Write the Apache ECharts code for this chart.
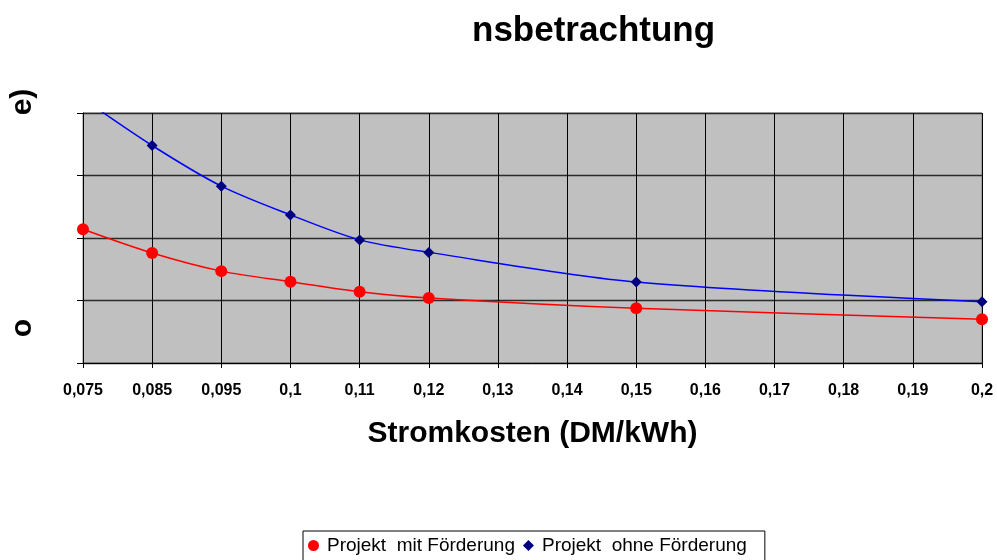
<!DOCTYPE html>
<html>
<head>
<meta charset="utf-8">
<script src="https://cdn.jsdelivr.net/npm/echarts@6/dist/echarts.min.js"></script>
<style>
html,body{margin:0;padding:0;background:#fff;}
#chart{width:997px;height:560px;}
</style>
</head>
<body>
<div id="chart"></div>
<script>
// Data
const categories = ['0,075','0,085','0,095','0,1','0,11','0,12','0,13','0,14','0,15','0,16','0,17','0,18','0,19','0,2'];
const mitFoerderung  = [21.4, 17.6, 14.7, 13.0, 11.4, 10.4, null, null, 8.75, null, null, null, null, 7.0];
const ohneFoerderung = [42.3, 34.8, 28.3, 23.7, 19.7, 17.7, null, null, 12.96, null, null, null, null, 9.8];
const seriesNames = ['Projekt  mit Förderung', 'Projekt  ohne Förderung'];
const titleText = 'nsbetrachtung';
const xAxisTitle = 'Stromkosten (DM/kWh)';
const yTitleParts = ['e)', 'o'];

const chart = echarts.init(document.getElementById('chart'), null, {renderer: 'canvas'});
const FONT = 'Liberation Sans, Arial, sans-serif';

chart.setOption({
  backgroundColor: '#ffffff',
  animation: false,
  title: {
    text: titleText,
    left: 467,
    top: 9,
    textStyle: {fontFamily: FONT, fontSize: 35, fontWeight: 'bold', color: '#000'}
  },
  graphic: [
    {type: 'text', x: 23, y: 102, rotation: Math.PI / 2,
     style: {text: yTitleParts[0], font: 'bold 30px ' + FONT, fill: '#000', textAlign: 'center', textVerticalAlign: 'middle'}},
    {type: 'text', x: 23, y: 328, rotation: Math.PI / 2,
     style: {text: yTitleParts[1], font: 'bold 30px ' + FONT, fill: '#000', textAlign: 'center', textVerticalAlign: 'middle'}}
  ],
  legend: {
    left: 303,
    top: 531,
    orient: 'horizontal',
    borderColor: '#000',
    borderWidth: 1,
    padding: [5, 18, 6, 5],
    itemGap: 8,
    itemWidth: 11,
    itemHeight: 11,
    textStyle: {fontFamily: FONT, fontSize: 19, color: '#000', padding: [0, 0, 0, 3]},
    data: [
      {name: seriesNames[0], icon: 'circle'},
      {name: seriesNames[1], icon: 'diamond'}
    ]
  },
  grid: {
    left: 83, right: 15, top: 113, bottom: 197,
    show: true, backgroundColor: '#c0c0c0', borderColor: '#808080', borderWidth: 1
  },
  xAxis: {
    type: 'category',
    data: categories,
    boundaryGap: false,
    name: xAxisTitle,
    nameLocation: 'middle',
    nameGap: 56,
    nameTextStyle: {fontFamily: FONT, fontSize: 30, fontWeight: 'bold', color: '#000'},
    axisLine: {lineStyle: {color: '#000', width: 1}},
    axisTick: {show: true, inside: false, length: 5, alignWithLabel: true, lineStyle: {color: '#000'}},
    axisLabel: {fontFamily: FONT, fontSize: 16, fontWeight: 'bold', color: '#000', margin: 20, interval: 0},
    splitLine: {show: true, lineStyle: {color: '#000', width: 1}}
  },
  yAxis: {
    type: 'value',
    min: 0, max: 40, interval: 10,
    axisLine: {show: true, lineStyle: {color: '#000', width: 1}},
    axisTick: {show: true, inside: false, length: 6, lineStyle: {color: '#000'}},
    axisLabel: {show: false},
    splitLine: {show: true, lineStyle: {color: '#2a2a2a', width: 1.3}}
  },
  series: [
    {
      name: seriesNames[0],
      type: 'line',
      data: mitFoerderung,
      connectNulls: true,
      smooth: 0.3,
      symbol: 'circle',
      symbolSize: 12,
      showAllSymbol: true,
      clip: true,
      lineStyle: {color: '#ff0000', width: 1.5},
      itemStyle: {color: '#ff0000'}
    },
    {
      name: seriesNames[1],
      type: 'line',
      data: ohneFoerderung,
      connectNulls: true,
      smooth: 0.3,
      symbol: 'diamond',
      symbolSize: 11,
      showAllSymbol: true,
      clip: true,
      lineStyle: {color: '#0000ff', width: 1.5},
      itemStyle: {color: '#000080'}
    }
  ]
});
</script>
</body>
</html>
